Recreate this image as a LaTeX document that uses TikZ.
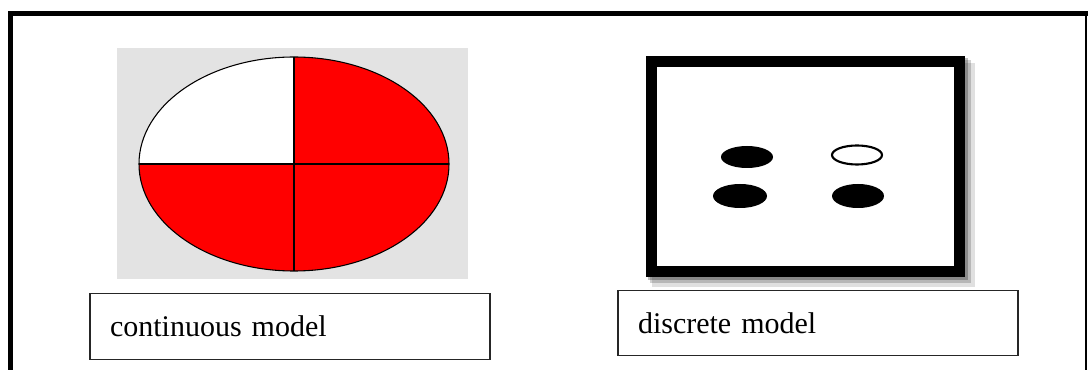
\documentclass[tikz,border=0pt]{standalone}
\usepackage{fontspec}
\setmainfont{Liberation Serif}
\usepackage{xcolor}
\usetikzlibrary{positioning}
\definecolor{panelgrey}{HTML}{E3E3E3}
\definecolor{piered}{HTML}{FF0000}
\tikzstyle{labelbox}=[rectangle, draw=black!85, line width=0.9pt, inner xsep=15pt,
  text width=270pt, align=left, minimum height=49pt, font=\fontsize{22.5}{27}\selectfont]
\tikzstyle{frameline}=[draw=black, line width=3.8pt]
\tikzstyle{quarter}=[draw=black, line width=0.8pt]
\tikzstyle{spot}=[fill=black]

\begin{document}
\begin{tikzpicture}[x=0.75pt, y=-0.75pt]
\useasboundingbox (0,0) rectangle (1088,370);
\fill[white] (0,0) rectangle (1088,370);

\draw[frameline] (10.5,372) -- (10.5,13.5) -- (1090,13.5);
\draw[black, line width=1.1pt] (1086,13.5) -- (1086,372);

\fill[panelgrey] (117,48) rectangle (468,279);
\coordinate (ctr) at (294,164);
\fill[piered] (ctr) ellipse [x radius=155, y radius=107];
\begin{scope}
  \clip (ctr) ellipse [x radius=155, y radius=107];
  \fill[white] (130,50) rectangle (ctr);
\end{scope}
\draw[quarter] (ctr) ellipse [x radius=155, y radius=107];
\draw[quarter] (139,164) -- (449,164);
\draw[quarter] (294,57) -- (294,271);

\fill[black, opacity=0.12] (652,63) rectangle (975,287);
\fill[black, opacity=0.18] (650,60) rectangle (971,283);
\fill[black, opacity=0.25] (648,58) rectangle (968,280);
\fill[black] (646,56) rectangle (965,277);
\fill[white] (657,67) rectangle (954,266);

\fill[spot] (747,157) ellipse [x radius=26, y radius=11];
\draw[black, line width=1.6pt] (857,155) ellipse [x radius=25, y radius=9.5];
\fill[spot] (740,196) ellipse [x radius=27, y radius=12];
\fill[spot] (858,196) ellipse [x radius=26, y radius=12];

\node (contlabel) [labelbox] at (290,326.5) {continuous model};
\node (disclabel) [labelbox] at (818,323) {discrete model};
\end{tikzpicture}
\end{document}
